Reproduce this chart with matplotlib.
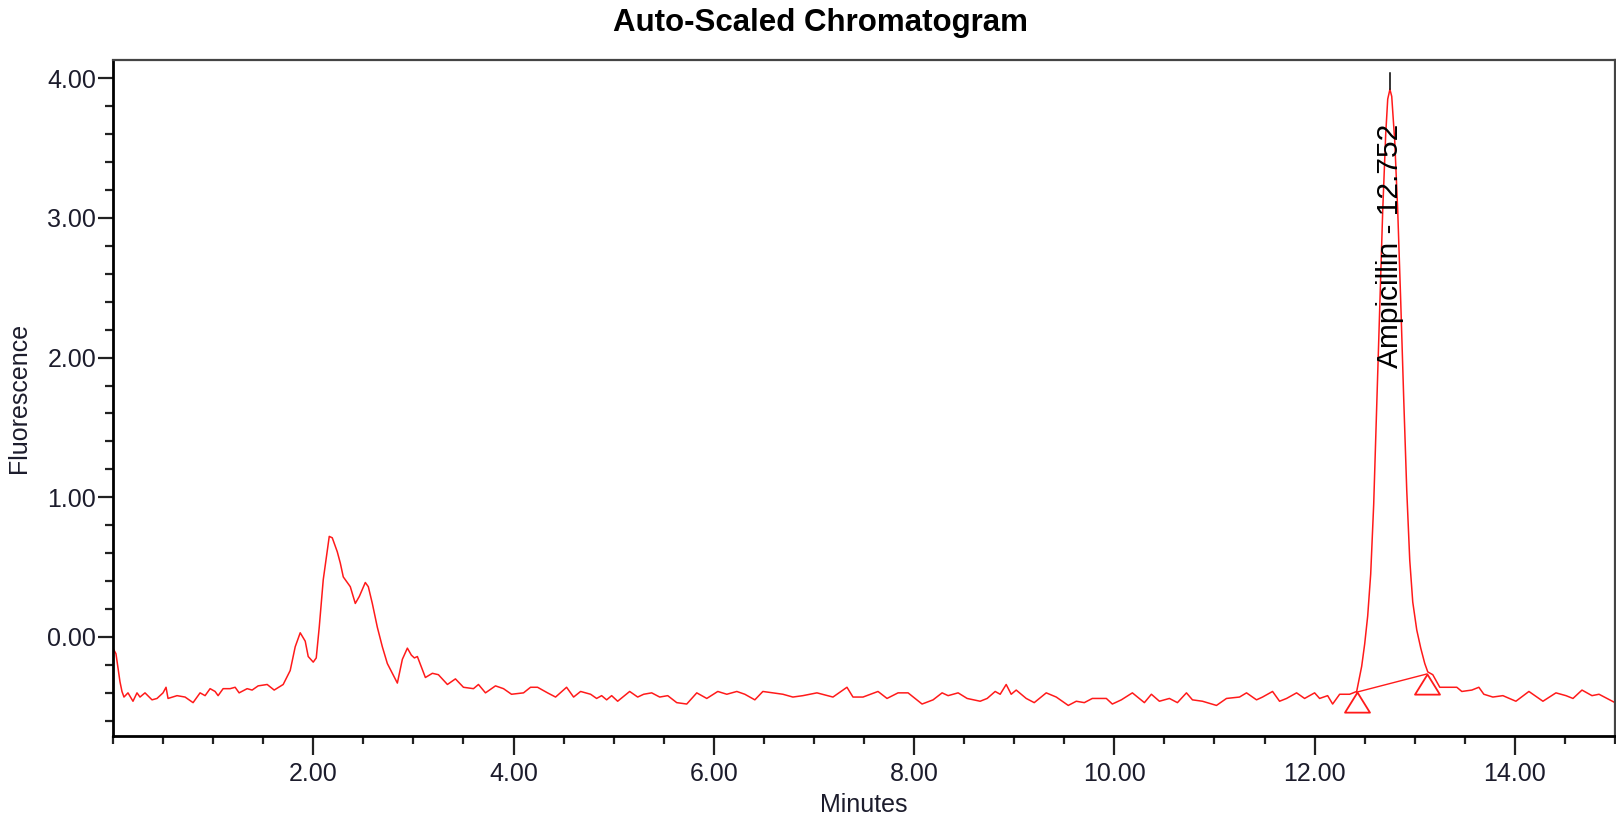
import matplotlib
matplotlib.use("Agg")
import matplotlib.pyplot as plt
from matplotlib.path import Path
from matplotlib.ticker import MultipleLocator, FixedLocator, FormatStrFormatter

plt.rcParams['font.family'] = ['Liberation Sans', 'DejaVu Sans']

# retention time (min) and fluorescence
minutes = [
    0.00, 0.03, 0.07, 0.09, 0.11, 0.15, 0.20, 0.24, 0.27, 0.32, 0.39, 0.44,
    0.50, 0.53, 0.55, 0.64, 0.72, 0.80, 0.87, 0.92, 0.97, 1.02, 1.05, 1.10,
    1.17, 1.22, 1.26, 1.34, 1.39, 1.45, 1.54, 1.61, 1.70, 1.77, 1.82, 1.87,
    1.92, 1.95, 2.00, 2.03, 2.06, 2.10, 2.16, 2.19, 2.24, 2.27, 2.30, 2.37,
    2.42, 2.46, 2.52, 2.55, 2.59, 2.64, 2.69, 2.74, 2.79, 2.84, 2.89, 2.94,
    2.98, 3.01, 3.04, 3.12, 3.19, 3.25, 3.34, 3.42, 3.50, 3.60, 3.65, 3.72,
    3.82, 3.90, 3.98, 4.10, 4.17, 4.24, 4.34, 4.42, 4.53, 4.60, 4.67, 4.77,
    4.83, 4.88, 4.93, 4.98, 5.04, 5.16, 5.24, 5.30, 5.38, 5.46, 5.54, 5.63,
    5.73, 5.83, 5.93, 6.04, 6.13, 6.23, 6.31, 6.41, 6.49, 6.59, 6.69, 6.79,
    6.89, 7.03, 7.19, 7.33, 7.39, 7.49, 7.64, 7.73, 7.84, 7.94, 8.08, 8.19,
    8.28, 8.34, 8.44, 8.53, 8.66, 8.73, 8.81, 8.86, 8.92, 8.97, 9.02, 9.12,
    9.20, 9.32, 9.42, 9.54, 9.62, 9.70, 9.78, 9.92, 9.98, 10.07, 10.18, 10.30,
    10.37, 10.45, 10.55, 10.63, 10.72, 10.78, 10.88, 11.02, 11.12, 11.25, 11.32, 11.42,
    11.48, 11.58, 11.65, 11.72, 11.82, 11.90, 12.00, 12.05, 12.13, 12.18, 12.25, 12.35,
    12.42, 12.47, 12.50, 12.53, 12.56, 12.59, 12.62, 12.65, 12.68, 12.71, 12.73, 12.752,
    12.77, 12.80, 12.83, 12.86, 12.89, 12.92, 12.95, 12.98, 13.02, 13.06, 13.10, 13.13,
    13.18, 13.25, 13.32, 13.42, 13.47, 13.57, 13.64, 13.69, 13.78, 13.88, 14.01, 14.14,
    14.28, 14.41, 14.51, 14.58, 14.67, 14.77, 14.84, 15.00,
]
fluorescence = [
    -0.08, -0.12, -0.32, -0.39, -0.43, -0.40, -0.46, -0.40, -0.43, -0.40, -0.45, -0.44,
    -0.40, -0.36, -0.44, -0.42, -0.43, -0.47, -0.40, -0.42, -0.37, -0.39, -0.42, -0.37,
    -0.37, -0.36, -0.40, -0.37, -0.38, -0.35, -0.34, -0.38, -0.34, -0.24, -0.07, 0.03,
    -0.03, -0.14, -0.18, -0.15, 0.07, 0.41, 0.72, 0.71, 0.61, 0.53, 0.43, 0.36,
    0.24, 0.29, 0.39, 0.36, 0.24, 0.07, -0.07, -0.19, -0.26, -0.33, -0.16, -0.08,
    -0.13, -0.15, -0.14, -0.29, -0.26, -0.27, -0.34, -0.30, -0.36, -0.37, -0.34, -0.40,
    -0.35, -0.37, -0.41, -0.40, -0.36, -0.36, -0.40, -0.43, -0.36, -0.43, -0.39, -0.41,
    -0.44, -0.42, -0.45, -0.42, -0.46, -0.39, -0.43, -0.41, -0.40, -0.43, -0.42, -0.47,
    -0.48, -0.40, -0.44, -0.39, -0.41, -0.39, -0.41, -0.45, -0.39, -0.40, -0.41, -0.43,
    -0.42, -0.40, -0.43, -0.36, -0.43, -0.43, -0.39, -0.44, -0.40, -0.40, -0.48, -0.45,
    -0.40, -0.42, -0.40, -0.44, -0.46, -0.44, -0.39, -0.41, -0.34, -0.41, -0.38, -0.44,
    -0.47, -0.40, -0.43, -0.49, -0.46, -0.47, -0.44, -0.44, -0.48, -0.45, -0.40, -0.47,
    -0.41, -0.46, -0.44, -0.47, -0.40, -0.45, -0.46, -0.49, -0.44, -0.43, -0.40, -0.45,
    -0.43, -0.39, -0.46, -0.44, -0.40, -0.44, -0.40, -0.44, -0.42, -0.48, -0.41, -0.41,
    -0.39, -0.21, -0.05, 0.15, 0.45, 0.95, 1.65, 2.35, 3.05, 3.60, 3.85, 3.92,
    3.87, 3.55, 3.05, 2.40, 1.70, 1.05, 0.55, 0.25, 0.05, -0.08, -0.19, -0.25,
    -0.27, -0.36, -0.36, -0.36, -0.39, -0.38, -0.36, -0.41, -0.43, -0.42, -0.46, -0.39,
    -0.46, -0.40, -0.42, -0.44, -0.38, -0.42, -0.41, -0.47,
]

# integration baseline start / end of the Ampicillin peak
peak_bounds_x = [12.42, 13.12]
peak_bounds_y = [-0.395, -0.265]
peak_rt = 12.752
peak_top = 3.92
peak_label = "Ampicillin - 12.752"

fig = plt.figure(figsize=(16.16, 8.21), dpi=100)
ax = fig.add_axes([0.0699, 0.1035, 0.9295, 0.8234])

red = "#ff1a1a"
ax.plot(minutes, fluorescence, color=red, lw=1.1)
ax.plot(peak_bounds_x, peak_bounds_y, color=red, lw=1.0)

# open triangles hanging below the baseline points
tri = Path([(0, 0), (-0.62, -1), (0.62, -1), (0, 0)],
           [Path.MOVETO, Path.LINETO, Path.LINETO, Path.CLOSEPOLY])
ax.plot(peak_bounds_x, peak_bounds_y, ls="none", marker=tri, markersize=29,
        markerfacecolor="none", markeredgecolor=red, markeredgewidth=1.3)

ax.plot([peak_rt, peak_rt], [peak_top, 4.04], color="black", lw=1.1)
ax.text(peak_rt, 2.8, peak_label, rotation=90, ha="center", va="center",
        fontsize=21.5, color="black")

ax.set_xlim(0, 15)
ax.set_ylim(-0.709, 4.13)

ax.xaxis.set_major_locator(FixedLocator([2, 4, 6, 8, 10, 12, 14]))
ax.xaxis.set_minor_locator(MultipleLocator(0.5))
ax.xaxis.set_major_formatter(FormatStrFormatter("%.2f"))
ax.yaxis.set_major_locator(FixedLocator([0, 1, 2, 3, 4]))
ax.yaxis.set_minor_locator(MultipleLocator(0.2))
ax.yaxis.set_major_formatter(FormatStrFormatter("%.2f"))

txt = "#1c1c2c"
ax.tick_params(which="major", length=11, width=1.6, direction="out",
               labelsize=18, colors="#222222", labelcolor=txt)
ax.tick_params(which="minor", length=6, width=1.6, direction="out", colors="#222222")
ax.tick_params(axis="x", which="major", pad=5, length=14)
ax.tick_params(axis="y", which="major", pad=1)

for s in ["left", "bottom"]:
    ax.spines[s].set_linewidth(2.0)
    ax.spines[s].set_color("black")
for s in ["top", "right"]:
    ax.spines[s].set_linewidth(1.6)
    ax.spines[s].set_color("#444444")

ax.set_xlabel("Minutes", fontsize=18, color=txt, labelpad=5)
ax.set_ylabel("Fluorescence", fontsize=18, color=txt, labelpad=12)
fig.suptitle("Auto-Scaled Chromatogram", fontsize=22.5, fontweight="bold",
             color="black", x=0.5075, y=0.99)

fig.savefig("out.png", dpi=100)
